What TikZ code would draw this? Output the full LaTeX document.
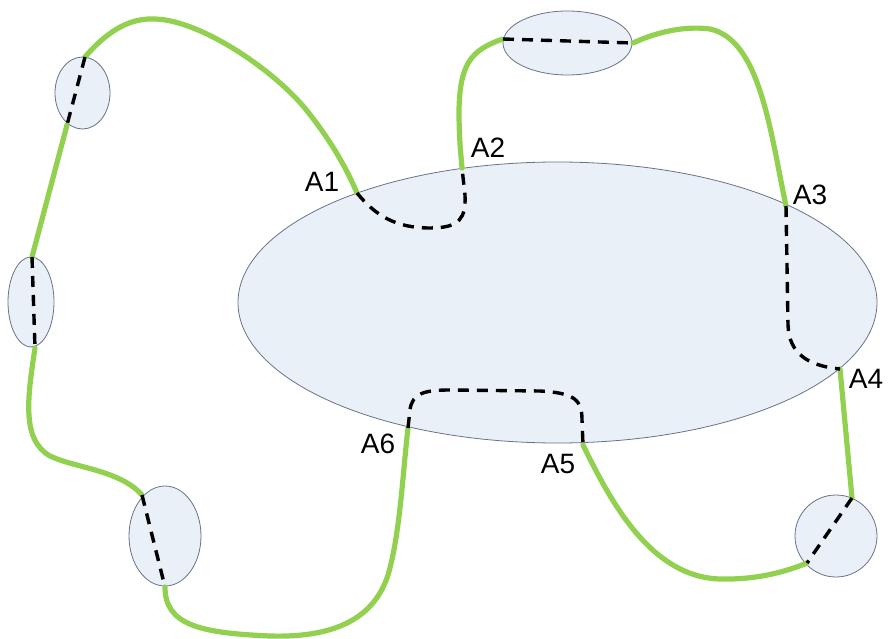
\documentclass[tikz,border=0pt]{standalone}
\usepackage{fontspec}
\setmainfont{Liberation Sans}
\usetikzlibrary{shapes.geometric}
\definecolor{wire}{RGB}{146,208,80}
\definecolor{ellfill}{RGB}{234,240,248}
\definecolor{ellrim}{RGB}{196,212,236}
\definecolor{elldraw}{RGB}{105,115,135}
\pgfdeclareradialshading{blobshade}{\pgfpoint{0bp}{0bp}}{color(0bp)=(ellfill); color(42bp)=(ellfill); color(49bp)=(ellrim); color(50bp)=(ellrim)}
\tikzset{
  blob/.style={ellipse, shading=blobshade, draw=elldraw, line width=0.8pt, inner sep=0pt},
  wireline/.style={wire, line width=5.2pt, line cap=round},
  hidden/.style={black, line width=3.4pt, dash pattern=on 11pt off 8pt},
  lab/.style={font=\fontsize{28}{30}\selectfont, inner sep=0pt}
}
\begin{document}
\begin{tikzpicture}[x=1pt,y=-1pt]
\useasboundingbox (0,0) rectangle (889,639);
% ellipses
\node[blob, minimum width=639pt, minimum height=281pt] (big) at (557.5,302.5) {};
\node[blob, minimum width=55pt, minimum height=72pt] (e1) at (82.5,93) {};
\node[blob, minimum width=46pt, minimum height=90pt] (e2) at (31,302) {};
\node[blob, minimum width=72pt, minimum height=100pt] (e3) at (165,536) {};
\node[blob, minimum width=129pt, minimum height=64pt] (e4) at (567.5,43) {};
\node[blob, minimum width=82pt, minimum height=82pt] (e5) at (836,536) {};
% ports
\coordinate (p1a) at (85,57);
\coordinate (p1b) at (67,125);
\coordinate (p2a) at (32,257);
\coordinate (p2b) at (35,348);
\coordinate (p3a) at (142,495);
\coordinate (p3b) at (165,587);
\coordinate (p4a) at (503,39);
\coordinate (p4b) at (633,43);
\coordinate (p5a) at (852,498);
\coordinate (p5b) at (807,563);
\coordinate (A1) at (357,193);
\coordinate (A2) at (462,168);
\coordinate (A3) at (786,206);
\coordinate (A4) at (840,369);
\coordinate (A5) at (583,445);
\coordinate (A6) at (408,428);
% green wires
\draw[wireline] (p1a) .. controls (110,28) and (132,18) .. (155,19)
  .. controls (200,20) and (275,70) .. (308,112)
  .. controls (330,140) and (345,165) .. (A1);
\draw[wireline] (p1b) -- (p2a);
\draw[wireline] (p2b) .. controls (27,400) and (22,440) .. (50,456)
  .. controls (75,468) and (120,470) .. (p3a);
\draw[wireline] (p3b) .. controls (165,625) and (200,633) .. (270,636)
  .. controls (340,638) and (375,615) .. (388,575)
  .. controls (400,535) and (403,470) .. (A6);
\draw[wireline] (A5) .. controls (610,500) and (650,577) .. (720,579)
  .. controls (760,580) and (790,570) .. (p5b);
\draw[wireline] (p5a) -- (A4);
\draw[wireline] (A3) .. controls (770,130) and (760,40) .. (710,29)
  .. controls (680,25) and (650,35) .. (p4b);
\draw[wireline] (p4a) .. controls (470,50) and (460,65) .. (459,110)
  .. controls (459,140) and (461,155) .. (A2);
% hidden dashed paths
\draw[hidden] (p1a) -- (p1b);
\draw[hidden] (p2a) -- (p2b);
\draw[hidden] (p3a) -- (p3b);
\draw[hidden] (p4a) -- (p4b);
\draw[hidden] (p5a) -- (p5b);
\draw[hidden] (A1) .. controls (375,215) and (395,228) .. (430,228)
  .. controls (460,228) and (466,218) .. (465,195) -- (A2);
\draw[hidden] (A3) -- (788,325) .. controls (789,355) and (810,366) .. (A4);
\draw[hidden] (A6) -- (410,410) .. controls (412,393) and (425,390) .. (450,390)
  -- (540,391) .. controls (575,393) and (582,400) .. (582,420) -- (A5);
% labels
\node[lab] (l1) at (322,182) {A1};
\node[lab] (l2) at (488,148) {A2};
\node[lab] (l3) at (810,195) {A3};
\node[lab] (l4) at (866,379) {A4};
\node[lab] (l5) at (558,464) {A5};
\node[lab] (l6) at (378,444) {A6};
\end{tikzpicture}
\end{document}
